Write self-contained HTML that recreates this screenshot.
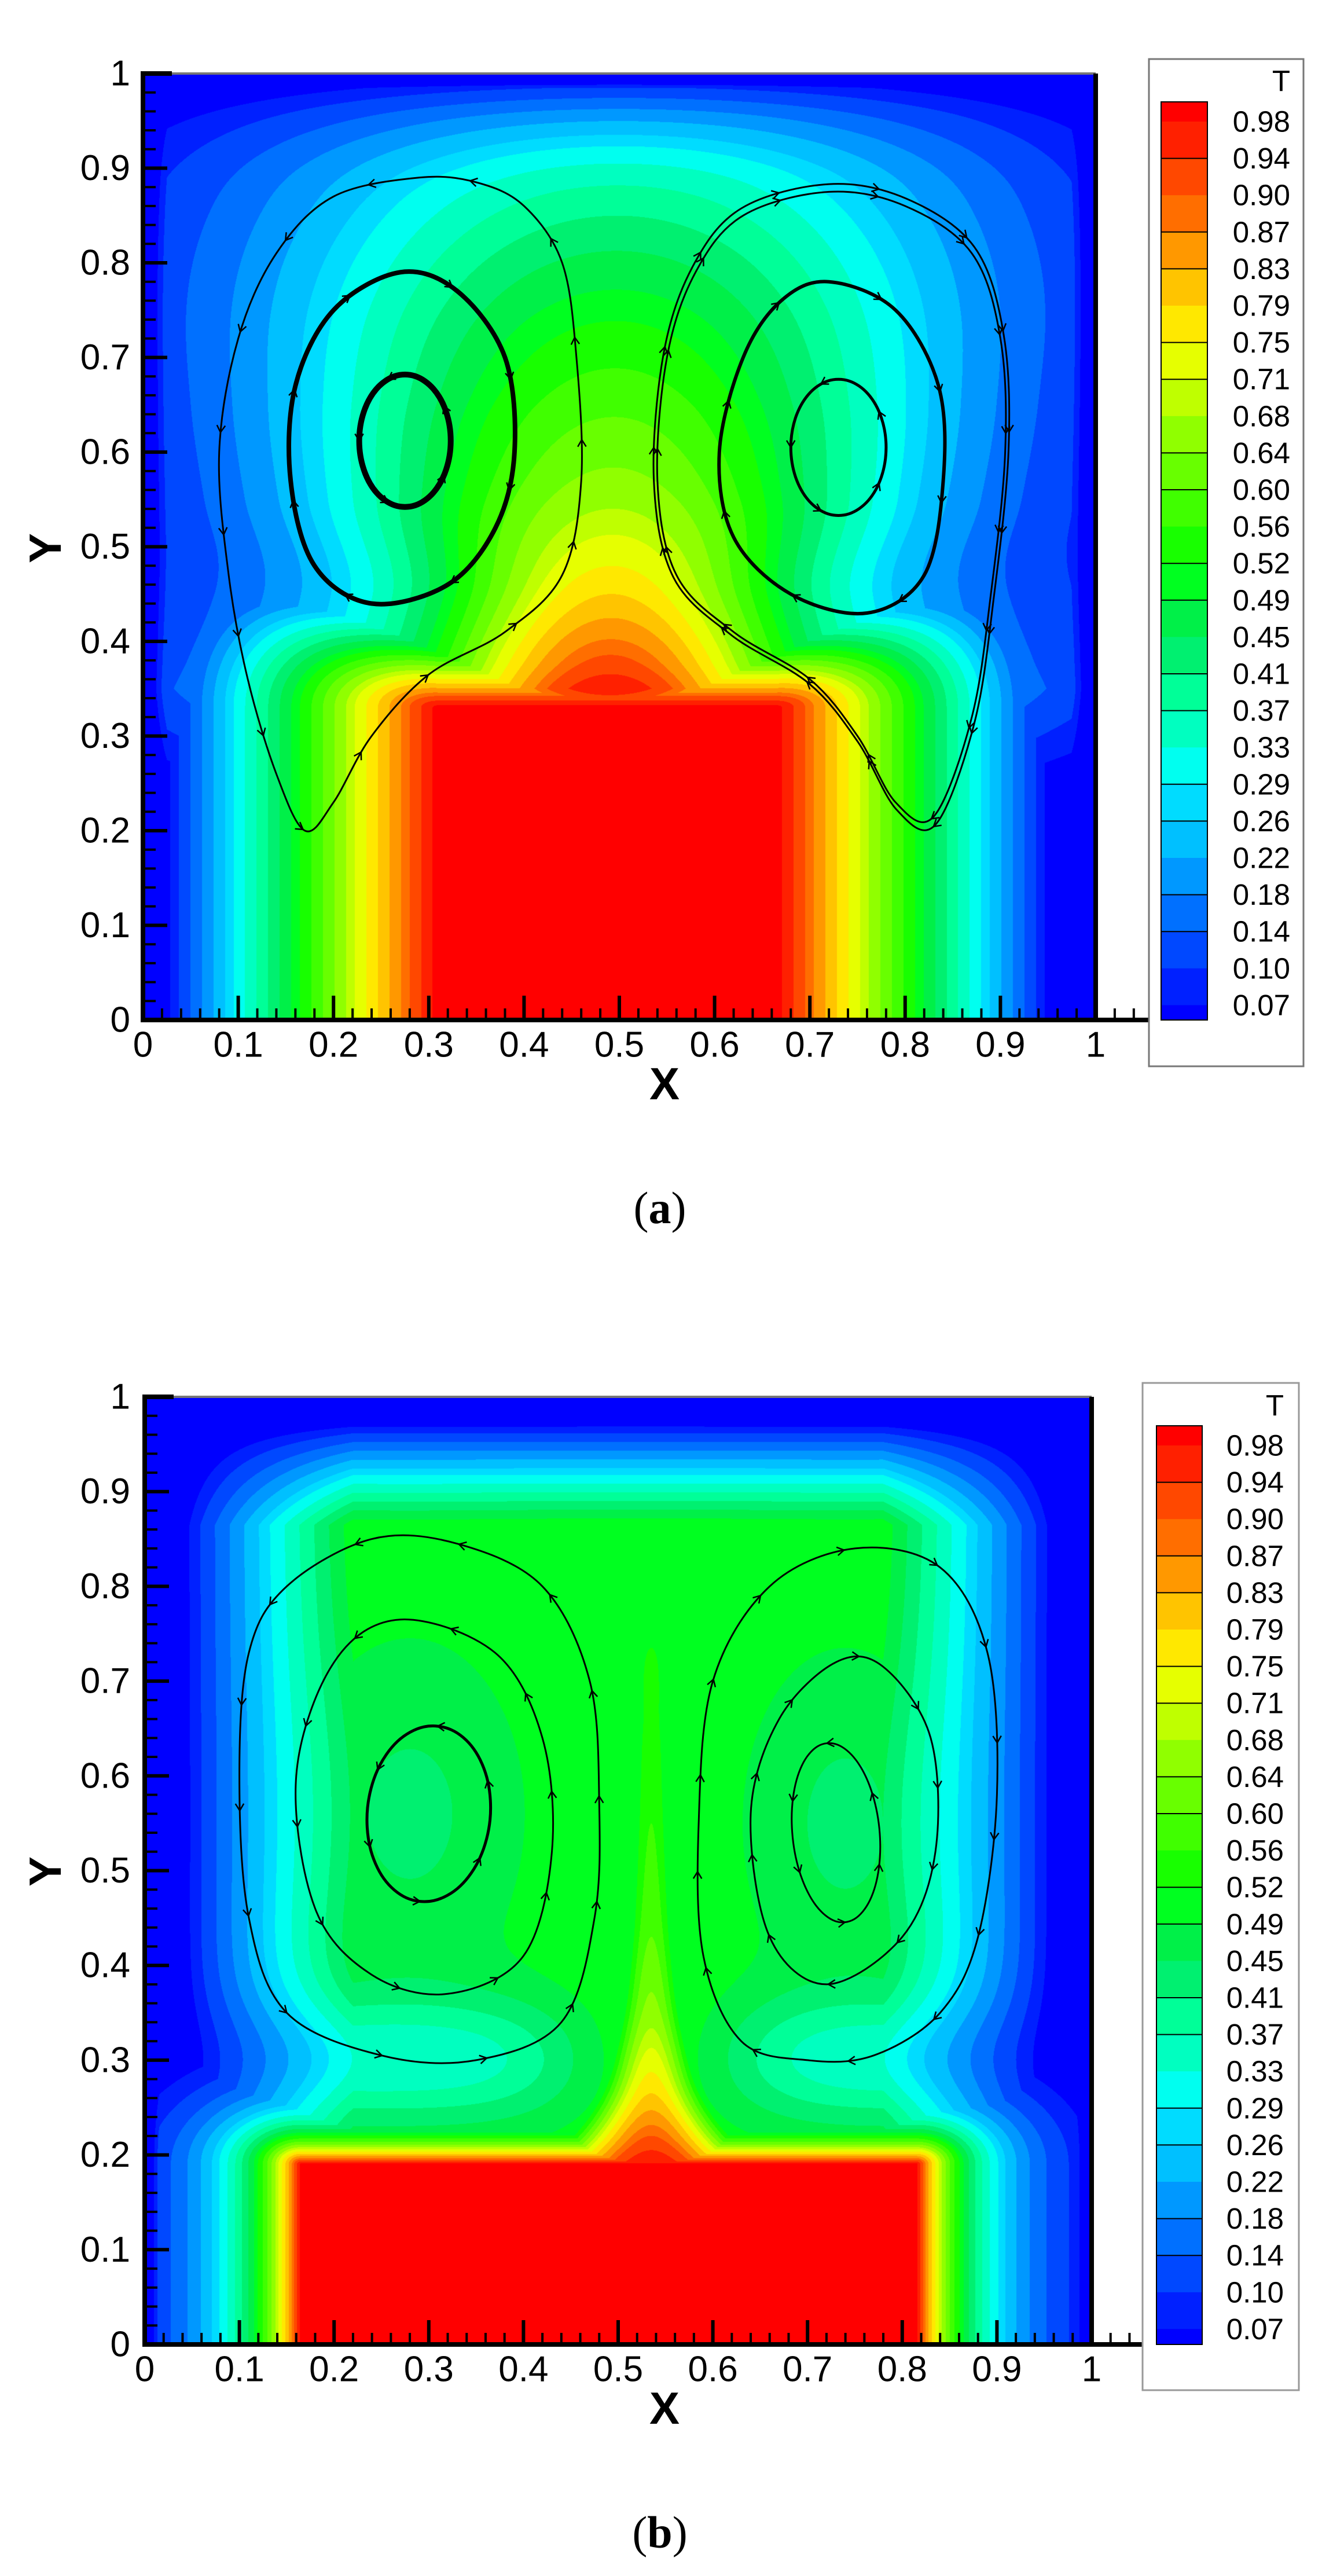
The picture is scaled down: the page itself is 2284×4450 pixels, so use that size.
<!DOCTYPE html>
<html><head><meta charset="utf-8">
<style>
html,body{margin:0;padding:0;background:#fff;}
body{width:2284px;height:4450px;position:relative;overflow:hidden;}
canvas{position:absolute;}
svg{position:absolute;left:0;top:0;}
text{font-family:"Liberation Sans",Arial,sans-serif;}
</style></head>
<body>
<canvas id="ca" style="left:247px;top:127px" width="1646" height="1635"></canvas>
<canvas id="cb" style="left:250px;top:2413px" width="1636" height="1637"></canvas>
<svg id="ov" width="2284" height="4450" viewBox="0 0 2284 4450">
<g id="gA"></g><g id="gB"></g>
<g font-size="62" fill="#000" text-anchor="end" dominant-baseline="central">
<text x="225" y="1762">0</text><text x="225" y="1598.5">0.1</text><text x="225" y="1435">0.2</text><text x="225" y="1271.5">0.3</text><text x="225" y="1108">0.4</text><text x="225" y="944.5">0.5</text><text x="225" y="781">0.6</text><text x="225" y="617.5">0.7</text><text x="225" y="454">0.8</text><text x="225" y="290.5">0.9</text><text x="225" y="127">1</text>
<text x="225" y="4050">0</text><text x="225" y="3886.3">0.1</text><text x="225" y="3722.6">0.2</text><text x="225" y="3558.9">0.3</text><text x="225" y="3395.2">0.4</text><text x="225" y="3231.5">0.5</text><text x="225" y="3067.8">0.6</text><text x="225" y="2904.1">0.7</text><text x="225" y="2740.4">0.8</text><text x="225" y="2576.7">0.9</text><text x="225" y="2413">1</text>
</g>
<g font-size="62" fill="#000" text-anchor="middle" dominant-baseline="central">
<text x="247" y="1805">0</text><text x="411.6" y="1805">0.1</text><text x="576.2" y="1805">0.2</text><text x="740.8" y="1805">0.3</text><text x="905.4" y="1805">0.4</text><text x="1070" y="1805">0.5</text><text x="1234.6" y="1805">0.6</text><text x="1399.2" y="1805">0.7</text><text x="1563.8" y="1805">0.8</text><text x="1728.4" y="1805">0.9</text><text x="1893" y="1805">1</text>
<text x="250" y="4093">0</text><text x="413.6" y="4093">0.1</text><text x="577.2" y="4093">0.2</text><text x="740.8" y="4093">0.3</text><text x="904.4" y="4093">0.4</text><text x="1068" y="4093">0.5</text><text x="1231.6" y="4093">0.6</text><text x="1395.2" y="4093">0.7</text><text x="1558.8" y="4093">0.8</text><text x="1722.4" y="4093">0.9</text><text x="1886" y="4093">1</text>
</g>
<g font-size="78" font-weight="bold" fill="#000" text-anchor="middle">
<text x="1148" y="1899">X</text>
<text x="1148" y="4187">X</text>
<text transform="translate(105,947) rotate(-90)">Y</text>
<text transform="translate(105,3233) rotate(-90)">Y</text>
</g>
<g font-size="78" fill="#000" text-anchor="middle">
<text x="1140" y="2113" style="font-family:'Liberation Serif',serif">(<tspan font-weight="bold">a</tspan>)</text>
<text x="1140" y="4401" style="font-family:'Liberation Serif',serif">(<tspan font-weight="bold">b</tspan>)</text>
</g>
<rect x="1985" y="102" width="267" height="1740" fill="#fff" stroke="#777" stroke-width="3"/>
<rect x="1974" y="2389" width="270" height="1740" fill="#fff" stroke="#999" stroke-width="3"/>
<g id="barA"></g><g id="barB"></g>
<g font-size="51" fill="#000" text-anchor="end" dominant-baseline="central">
<text x="2229" y="140">T</text>
<text x="2229" y="210">0.98</text><text x="2229" y="273.6">0.94</text><text x="2229" y="337.2">0.90</text><text x="2229" y="400.8">0.87</text><text x="2229" y="464.4">0.83</text><text x="2229" y="528">0.79</text><text x="2229" y="591.6">0.75</text><text x="2229" y="655.2">0.71</text><text x="2229" y="718.8">0.68</text><text x="2229" y="782.4">0.64</text><text x="2229" y="846">0.60</text><text x="2229" y="909.6">0.56</text><text x="2229" y="973.2">0.52</text><text x="2229" y="1036.8">0.49</text><text x="2229" y="1100.4">0.45</text><text x="2229" y="1164">0.41</text><text x="2229" y="1227.6">0.37</text><text x="2229" y="1291.2">0.33</text><text x="2229" y="1354.8">0.29</text><text x="2229" y="1418.4">0.26</text><text x="2229" y="1482">0.22</text><text x="2229" y="1545.6">0.18</text><text x="2229" y="1609.2">0.14</text><text x="2229" y="1672.8">0.10</text><text x="2229" y="1736.4">0.07</text>
</g>
<g font-size="51" fill="#000" text-anchor="end" dominant-baseline="central">
<text x="2218" y="2428">T</text>
<text x="2218" y="2497">0.98</text><text x="2218" y="2560.6">0.94</text><text x="2218" y="2624.2">0.90</text><text x="2218" y="2687.8">0.87</text><text x="2218" y="2751.4">0.83</text><text x="2218" y="2815">0.79</text><text x="2218" y="2878.6">0.75</text><text x="2218" y="2942.2">0.71</text><text x="2218" y="3005.8">0.68</text><text x="2218" y="3069.4">0.64</text><text x="2218" y="3133">0.60</text><text x="2218" y="3196.6">0.56</text><text x="2218" y="3260.2">0.52</text><text x="2218" y="3323.8">0.49</text><text x="2218" y="3387.4">0.45</text><text x="2218" y="3451">0.41</text><text x="2218" y="3514.6">0.37</text><text x="2218" y="3578.2">0.33</text><text x="2218" y="3641.8">0.29</text><text x="2218" y="3705.4">0.26</text><text x="2218" y="3769">0.22</text><text x="2218" y="3832.6">0.18</text><text x="2218" y="3896.2">0.14</text><text x="2218" y="3959.8">0.10</text><text x="2218" y="4023.4">0.07</text>
</g>
</svg>
<script>
var COLS=["#0000ff","#0020ff","#0048ff","#0070ff","#0098ff","#00c0ff","#00dcff","#00fff0","#00ffc0","#00ff98","#00f070","#00f048","#00ff20","#18ff00","#40ff00","#68ff00","#90ff00","#bfff00","#e6ff00","#ffe800","#ffc400","#ff9800","#ff6e00","#ff4800","#ff2000","#ff0000"];
var LEV=[0.07,0.10,0.14,0.18,0.22,0.26,0.29,0.33,0.37,0.41,0.45,0.49,0.52,0.56,0.60,0.64,0.68,0.71,0.75,0.79,0.83,0.87,0.90,0.94,0.98];
var RGB=COLS.map(function(c){return [parseInt(c.substr(1,2),16),parseInt(c.substr(3,2),16),parseInt(c.substr(5,2),16)];});
function band(t){var i=0;while(i<LEV.length&&t>=LEV[i])i++;return i;}
function interp(tab,v){
 var n=tab.length;if(v<=tab[0][0])return tab[0][1];if(v>=tab[n-1][0])return tab[n-1][1];
 for(var i=1;i<n;i++){if(v<=tab[i][0]){
  var a=tab[i-1],b=tab[i],t=(v-a[0])/(b[0]-a[0]);
  var m0=(i>=2)?(b[1]-tab[i-2][1])/(b[0]-tab[i-2][0]):(b[1]-a[1])/(b[0]-a[0]);
  var m1=(i<n-1)?(tab[i+1][1]-a[1])/(tab[i+1][0]-a[0]):(b[1]-a[1])/(b[0]-a[0]);
  var h=b[0]-a[0],t2=t*t,t3=t2*t;
  return (2*t3-3*t2+1)*a[1]+(t3-2*t2+t)*h*m0+(-2*t3+3*t2)*b[1]+(t3-t2)*h*m1;}}
}
var CA=[[0.2,1.0],[0.33,1.0],[0.38,0.91],[0.45,0.79],[0.55,0.67],[0.65,0.59],[0.75,0.51],[0.85,0.41],[0.9,0.34],[0.95,0.22],[1.0,0.05]];
var AA=[[0.2,0.2],[0.45,0.2],[0.55,0.27],[0.65,0.32],[0.8,0.38],[1,0.42]];
function TA(x,y){
 var dx=Math.max(0,0.31-x,x-0.665),dy=Math.max(0,y-0.33);
 var k=2.5-1.3*Math.min(1,dx/0.25);
 var t1=1-3.3*Math.sqrt(dx*dx+k*k*dy*dy);
 var C=interp(CA,y),a=interp(AA,y),b=0.45;var u=Math.abs(x-0.49-0.015*Math.max(0,y-0.33));
 var w=Math.min(1,Math.max(0,(y-0.2)/0.15));
 var t2=w*C*(0.6*Math.exp(-(u/a)*(u/a))+0.4*Math.exp(-(u/b)*(u/b)));
 var t=Math.max(t1,t2);
 t*=Math.min(1,x/0.025,(1-x)/0.025,(1-y)/0.015);
 return t;
}
var PB=[[0.19,0.98],[0.22,0.9],[0.26,0.8],[0.3,0.73],[0.35,0.66],[0.4,0.62],[0.45,0.59],[0.55,0.56],[0.65,0.54],[0.75,0.5],[0.85,0.2],[0.9,0]];
var WB=[[0.19,0.15],[0.22,0.11],[0.26,0.08],[0.3,0.065],[0.4,0.05],[0.6,0.045],[0.9,0.045]];
function s(t){return Math.min(1,Math.max(0,t));}
function TB(x,y){
 var dx=Math.max(0,0.165-x,x-0.815),dy=Math.max(0,y-0.19);
 var th=Math.exp(-Math.sqrt(dx*dx+(1.5*dy)*(1.5*dy))/0.07);
 var ti=0.52*s((x-0.02)/0.2)*s((0.98-x)/0.2)*s((0.985-y)/0.12);
 ti-=0.08*Math.exp(-((x-0.28)*(x-0.28)/0.015+(y-0.56)*(y-0.56)/0.035))+0.08*Math.exp(-((x-0.74)*(x-0.74)/0.012+(y-0.55)*(y-0.55)/0.035));
 ti*=1-0.35*Math.exp(-Math.pow((y-0.3)/0.07,2))*(1-Math.exp(-Math.pow((x-0.535)/0.12,2)));
 var tp=0;
 if(y>0.19){var w=interp(WB,y);tp=interp(PB,y)*Math.exp(-Math.pow((x-0.535)/w,2));}
 var t=Math.max(th,ti,tp);
 t*=Math.min(1,x/0.015,(1-x)/0.015);
 return t;
}
function paint(id,f){
 var c=document.getElementById(id),ctx=c.getContext('2d'),W=c.width,H=c.height;
 var im=ctx.createImageData(W,H),d=im.data;
 for(var j=0;j<H;j++){var y=1-j/(H-1);
  for(var i=0;i<W;i++){var x=i/(W-1);var col=RGB[band(f(x,y))];var k=(j*W+i)*4;d[k]=col[0];d[k+1]=col[1];d[k+2]=col[2];d[k+3]=255;}}
 ctx.putImageData(im,0,0);
}
paint('ca',TA);paint('cb',TB);
var NS='http://www.w3.org/2000/svg';
function el(p,tag,at){var e=document.createElementNS(NS,tag);for(var k in at)e.setAttribute(k,at[k]);p.appendChild(e);return e;}
function axes(g,x0,x1,y0,y1,ext){
 var W=x1-x0,H=y1-y0;
 el(g,'line',{x1:x0,y1:y0,x2:x1,y2:y0,stroke:'#777','stroke-width':4});
 el(g,'line',{x1:x0,y1:y0,x2:x0+50,y2:y0,stroke:'#000','stroke-width':8});
 el(g,'line',{x1:x1,y1:y0,x2:x1,y2:y1,stroke:'#000','stroke-width':8});
 el(g,'line',{x1:x0,y1:y0-4,x2:x0,y2:y1+4,stroke:'#000','stroke-width':8});
 el(g,'line',{x1:x0-4,y1:y1,x2:ext,y2:y1,stroke:'#000','stroke-width':8});
 for(var k=0;k<=50;k++){var yy=y1-k*H/50;var L=(k%5==0)?42:22;el(g,'line',{x1:x0,y1:yy,x2:x0+L,y2:yy,stroke:'#000','stroke-width':k%5==0?6:4});}
 for(var k=0;k*W/50+x0<ext-5;k++){var xx=x0+k*W/50;var L=(k%5==0&&k<=50)?42:20;el(g,'line',{x1:xx,y1:y1,x2:xx,y2:y1-L,stroke:'#000','stroke-width':(k%5==0&&k<=50)?6:4});}
}
function toPx(p,b){return [b[0]+p[0]*(b[1]-b[0]),b[3]-p[1]*(b[3]-b[2])];}
function cr(pts,b){
 var P=pts.map(function(p){return toPx(p,b);});
 var n=P.length,d='M'+P[0][0].toFixed(1)+','+P[0][1].toFixed(1);
 for(var i=0;i<n;i++){var p0=P[(i-1+n)%n],p1=P[i],p2=P[(i+1)%n],p3=P[(i+2)%n];
  var c1=[p1[0]+(p2[0]-p0[0])/6,p1[1]+(p2[1]-p0[1])/6],c2=[p2[0]-(p3[0]-p1[0])/6,p2[1]-(p3[1]-p1[1])/6];
  d+='C'+c1[0].toFixed(1)+','+c1[1].toFixed(1)+' '+c2[0].toFixed(1)+','+c2[1].toFixed(1)+' '+p2[0].toFixed(1)+','+p2[1].toFixed(1);}
 return d+'Z';
}
function ell(cx,cy,rx,ry,rot,n){var a=[];n=n||16;for(var i=0;i<n;i++){var t=2*Math.PI*i/n;var x=rx*Math.cos(t),y=ry*Math.sin(t);var c=Math.cos(rot),sn=Math.sin(rot);a.push([cx+x*c-y*sn,cy+x*sn+y*c]);}return a;}
function stream(g,pts,w,b,arrows){
 var p=el(g,'path',{d:cr(pts,b),fill:'none',stroke:'#000','stroke-width':w,'stroke-linejoin':'round'});
 var L=p.getTotalLength(),na=arrows||10;
 for(var i=0;i<na;i++){var l=L*(i+0.5)/na;var q=p.getPointAtLength(l),q2=p.getPointAtLength(Math.min(L,l+2));
  var ang=Math.atan2(q2.y-q.y,q2.x-q.x);var s=14;
  var a1=ang+2.6,a2=ang-2.6;
  el(g,'path',{d:'M'+(q.x+s*Math.cos(a1)).toFixed(1)+','+(q.y+s*Math.sin(a1)).toFixed(1)+'L'+q.x.toFixed(1)+','+q.y.toFixed(1)+'L'+(q.x+s*Math.cos(a2)).toFixed(1)+','+(q.y+s*Math.sin(a2)).toFixed(1),fill:'none',stroke:'#000','stroke-width':2.5});}
}
var gA=document.getElementById('gA'),gB=document.getElementById('gB');
var bA=[247,1893,127,1762],bB=[250,1886,2413,4050];
stream(gA,[[0.29,0.89],[0.2,0.87],[0.14,0.81],[0.1,0.72],[0.08,0.6],[0.09,0.47],[0.11,0.36],[0.14,0.26],[0.17,0.2],[0.2,0.23],[0.24,0.3],[0.3,0.365],[0.38,0.41],[0.44,0.47],[0.46,0.57],[0.455,0.7],[0.44,0.8],[0.4,0.86],[0.35,0.885]],3,bA,16);
stream(gA,[[0.27,0.79],[0.33,0.77],[0.38,0.7],[0.39,0.6],[0.37,0.52],[0.32,0.46],[0.24,0.44],[0.18,0.48],[0.155,0.57],[0.16,0.67],[0.2,0.75]],8,bA,8);
stream(gA,ell(0.275,0.612,0.048,0.07,0,14),10,bA,5);
var RO=[[0.72,0.875],[0.8,0.86],[0.87,0.81],[0.9,0.72],[0.905,0.6],[0.89,0.45],[0.87,0.32],[0.83,0.215],[0.79,0.23],[0.75,0.3],[0.7,0.36],[0.62,0.41],[0.56,0.47],[0.54,0.57],[0.55,0.7],[0.58,0.79],[0.63,0.85]];
stream(gA,RO,3,bA,16);
stream(gA,RO.map(function(p){var cx=0.73,cy=0.55;return [cx+(p[0]-cx)*1.02,cy+(p[1]-cy)*1.025];}),3,bA,16);
stream(gA,[[0.72,0.78],[0.79,0.75],[0.835,0.67],[0.84,0.57],[0.82,0.47],[0.76,0.43],[0.68,0.45],[0.62,0.51],[0.605,0.6],[0.63,0.7],[0.67,0.76]],6,bA,8);
stream(gA,ell(0.73,0.605,0.05,0.072,0,14),5,bA,5);
stream(gB,[[0.11,0.73],[0.1,0.6],[0.11,0.45],[0.15,0.35],[0.25,0.305],[0.35,0.3],[0.44,0.34],[0.475,0.45],[0.48,0.57],[0.47,0.7],[0.42,0.8],[0.33,0.845],[0.24,0.85],[0.15,0.8]],3,bB,14);
stream(gB,[[0.16,0.6],[0.18,0.46],[0.24,0.39],[0.32,0.37],[0.4,0.41],[0.43,0.52],[0.42,0.64],[0.37,0.73],[0.27,0.765],[0.2,0.72]],3,bB,10);
stream(gB,ell(0.3,0.56,0.065,0.093,-0.1,14),5,bB,6);
stream(gB,[[0.585,0.55],[0.6,0.7],[0.66,0.8],[0.75,0.84],[0.84,0.82],[0.89,0.73],[0.9,0.58],[0.88,0.43],[0.84,0.35],[0.77,0.305],[0.7,0.3],[0.63,0.32],[0.59,0.41]],3,bB,14);
stream(gB,[[0.64,0.56],[0.67,0.66],[0.73,0.72],[0.78,0.715],[0.83,0.64],[0.835,0.52],[0.8,0.43],[0.72,0.38],[0.66,0.43]],3,bB,10);
stream(gB,ell(0.73,0.54,0.046,0.095,0.1,14),3,bB,6);
axes(gA,247,1893,127,1762,2006);
axes(gB,250,1886,2413,4050,1998);
function bar(id,x,w,top,bot,l0){
 var g=document.getElementById(id),sp=63.6;
 el(g,'rect',{x:x,y:top,width:w,height:l0-top,fill:COLS[25]});
 for(var k=0;k<24;k++){el(g,'rect',{x:x,y:l0+k*sp,width:w,height:sp+0.6,fill:COLS[24-k]});}
 el(g,'rect',{x:x,y:l0+24*sp,width:w,height:bot-(l0+24*sp),fill:COLS[0]});
 for(var k=1;k<24;k++){if(k%3!=2)el(g,'line',{x1:x,y1:l0+k*sp,x2:x+w,y2:l0+k*sp,stroke:'#000','stroke-width':2});}
 el(g,'rect',{x:x,y:top,width:w,height:bot-top,fill:'none',stroke:'#000','stroke-width':2});
}
bar('barA',2006,80,176,1762,210);
bar('barB',1998,79,2463,4050,2497);
</script>
</body></html>
